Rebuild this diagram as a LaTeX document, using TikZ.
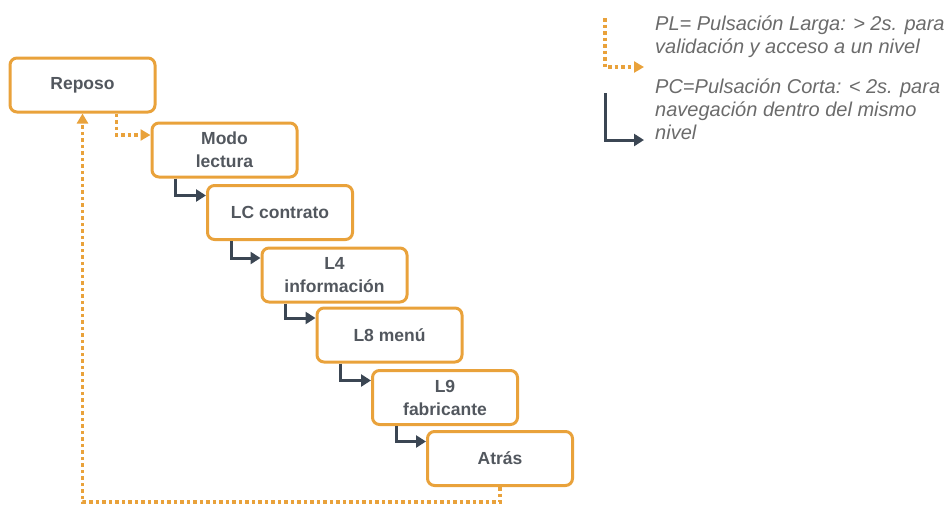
\documentclass[tikz,border=0pt]{standalone}
\usepackage{fontspec}
\setmainfont{Liberation Sans}
\usetikzlibrary{arrows.meta}
\definecolor{plorange}{HTML}{E9A23B}
\definecolor{pcdark}{HTML}{3B4653}
\definecolor{boxtext}{HTML}{52575E}
\definecolor{legtext}{HTML}{6B6B6B}
\tikzset{
	levelbox/.style={draw=plorange, line width=3pt, rounded corners=7pt,
		minimum width=145pt, minimum height=54pt, inner sep=2pt,
		align=center, text=boxtext,
		font=\fontsize{17.5}{23}\selectfont\bfseries},
	pl/.style={draw=plorange, line width=3.2pt, dash pattern=on 3.5pt off 3pt,
		-{Triangle[width=11pt,length=10pt,fill=plorange]}},
	pc/.style={draw=pcdark, line width=3pt,
		-{Triangle[width=12pt,length=10pt,fill=pcdark]}},
	legend/.style={anchor=base west, inner sep=0pt, align=left, text=legtext,
		font=\fontsize{20}{23}\selectfont\itshape}
}
\begin{document}
\begin{tikzpicture}[x=1pt,y=-1pt]
	\useasboundingbox (0,0) rectangle (945,504);
	% levels
	\node[levelbox] (n0) at (82.5,85) {Reposo};
	\node[levelbox] (n1) at (224.5,150) {Modo\\lectura};
	\node[levelbox] (n2) at (280,212.5) {LC contrato};
	\node[levelbox] (n3) at (334.5,275) {L4\\información};
	\node[levelbox] (n4) at (389.5,335) {L8 menú};
	\node[levelbox] (n5) at (445,397.5) {L9\\fabricante};
	\node[levelbox] (n6) at (500,458.5) {Atrás};
	
	% long press
	\draw[pl] ([xshift=-40pt]n0.south east) |- ([yshift=15pt]n1.west);
	\draw[pl] (n6.south) -- ++(0,15) -| (n0.south);
	
	% short press
	\draw[pc] ([xshift=25pt]n1.south west) |- ([yshift=17pt]n2.west);
	\draw[pc] ([xshift=25pt]n2.south west) |- ([yshift=17pt]n3.west);
	\draw[pc] ([xshift=25pt]n3.south west) |- ([yshift=17pt]n4.west);
	\draw[pc] ([xshift=25pt]n4.south west) |- ([yshift=17pt]n5.west);
	\draw[pc] ([xshift=25pt]n5.south west) |- ([yshift=17pt]n6.west);
	
	% legend
	\coordinate (l0) at (605,18);
	\coordinate (l1) at (644,67);
	\coordinate (l2) at (605,93);
	\coordinate (l3) at (644,140);
	\draw[pl] (l0) |- (l1);
	\draw[pc] (l2) |- (l3);
	\node[legend] (t0) at (655,53) {PL= Pulsación Larga: > 2s. para\\validación y acceso a un nivel};
	\node[legend] (t1) at (655,139) {PC=Pulsación Corta: < 2s. para\\navegación dentro del mismo\\nivel};
\end{tikzpicture}
\end{document}
